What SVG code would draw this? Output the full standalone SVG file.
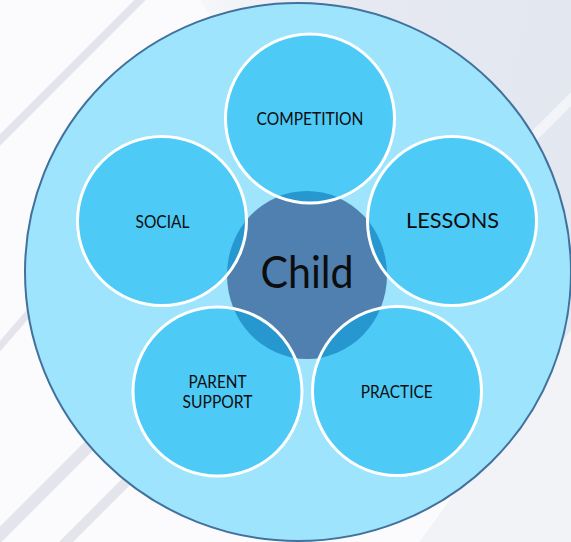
<svg xmlns="http://www.w3.org/2000/svg" width="571" height="542" viewBox="0 0 571 542">
  <style>
    .streak { stroke: #e4e4ec; stroke-linecap: butt; fill: none; }
    .node { fill: #00B0F0; fill-opacity: 0.5; stroke: #FFFFFF; stroke-width: 3; }
    .lbl { font-family: Lato, "Open Sans", "Liberation Sans", sans-serif; fill: #0d0d0d; text-anchor: middle; }
  </style>
  <defs>
    <linearGradient id="bgTop" x1="0" y1="0" x2="1" y2="0.4">
      <stop offset="0" stop-color="#f6f7fa"/>
      <stop offset="0.35" stop-color="#e6e9f1"/>
      <stop offset="1" stop-color="#e3e7f0"/>
    </linearGradient>
  </defs>
  <!-- background -->
  <rect x="0" y="0" width="571" height="542" fill="#fbfbfd"/>
  <polygon points="200,0 571,0 571,330 420,542 571,542" fill="url(#bgTop)"/>
  <polygon points="420,542 571,330 571,542" fill="#f1f3f7"/>
  <line class="streak" x1="-5" y1="145" x2="145" y2="-5" stroke-width="8"/>
  <line class="streak" x1="-5" y1="352" x2="40" y2="300" stroke-width="7"/>
  <line class="streak" x1="-5" y1="540" x2="100" y2="435" stroke-width="12"/>
  <line class="streak" x1="60" y1="548" x2="130" y2="478" stroke-width="10"/>
  <line x1="530" y1="140" x2="575" y2="95" stroke="#f2f4f8" stroke-width="10"/>

  <!-- outer container -->
  <g id="outer">
    <ellipse cx="298" cy="272" rx="273" ry="269" fill="#9DE4FC" stroke="#41719C" stroke-width="2"/>
  </g>

  <!-- centre -->
  <g id="child">
    <ellipse cx="307" cy="275" rx="80" ry="84" fill="#4F80AF"/>
  </g>

  <g id="competition">
    <circle class="node" cx="310" cy="118.5" r="84.5"/>
    <text class="lbl" x="310" y="125" font-size="17" textLength="107" lengthAdjust="spacingAndGlyphs">COMPETITION</text>
  </g>
  <g id="social">
    <circle class="node" cx="162" cy="221" r="84.5"/>
    <text class="lbl" x="162.5" y="227.5" font-size="17" textLength="54" lengthAdjust="spacingAndGlyphs">SOCIAL</text>
  </g>
  <g id="lessons">
    <circle class="node" cx="452" cy="221" r="84.5"/>
    <text class="lbl" x="452.5" y="227.5" font-size="21" textLength="93" lengthAdjust="spacingAndGlyphs">LESSONS</text>
  </g>
  <g id="parent-support">
    <circle class="node" cx="217.5" cy="391.5" r="84.5"/>
    <text class="lbl" x="217.5" y="387.5" font-size="16.5" textLength="58" lengthAdjust="spacingAndGlyphs">PARENT</text>
    <text class="lbl" x="217.5" y="407.5" font-size="16.5" textLength="70" lengthAdjust="spacingAndGlyphs">SUPPORT</text>
  </g>
  <g id="practice">
    <circle class="node" cx="397" cy="391" r="84.5"/>
    <text class="lbl" x="396.7" y="397.5" font-size="17" textLength="72" lengthAdjust="spacingAndGlyphs">PRACTICE</text>
  </g>

  <g id="child-label">
    <text class="lbl" x="307" y="288" font-size="44" textLength="93" lengthAdjust="spacingAndGlyphs">Child</text>
  </g>
  <g id="connectors"/>
</svg>
